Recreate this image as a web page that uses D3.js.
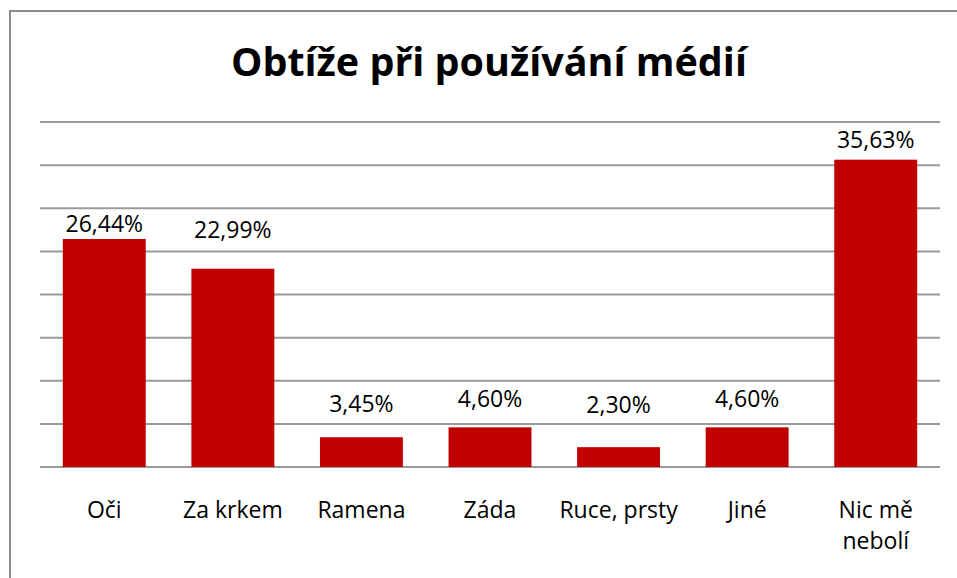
<!DOCTYPE html>
<html>
<head>
<meta charset="utf-8">
<script src="https://cdn.jsdelivr.net/npm/d3@7"></script>
<style>
  body { margin: 0; background: #fff; }
  svg { display: block; font-family: "Open Sans", "Lato", sans-serif; }
</style>
</head>
<body>
<div id="chart"></div>
<script>
var categories = ["Oči", "Za krkem", "Ramena", "Záda", "Ruce, prsty", "Jiné", "Nic mě nebolí"];
var values = [26.44, 22.99, 3.45, 4.60, 2.30, 4.60, 35.63];
var yTicks = [0, 5, 10, 15, 20, 25, 30, 35, 40];
var chartTitle = "Obtíže při používání médií";

// label lift above bar top, as placed in the original (px)
var labelLift = [7, 31, 25, 20, 34, 20, 12];

var W = 957, H = 578;
var margin = { top: 122, right: 17, bottom: 111, left: 40 };
var width = W - margin.left - margin.right,
  height = H - margin.top - margin.bottom;

var svg = d3.select("#chart").append("svg")
  .attr("width", W)
  .attr("height", H);

// outer frame (only left and top visible)
svg.append("path")
  .attr("d", "M10," + H + " V11 H" + W)
  .attr("fill", "none")
  .attr("stroke", "#8c8c8c")
  .attr("stroke-width", 2);

var g = svg.append("g")
  .attr("transform", "translate(" + margin.left + "," + margin.top + ")");

var x = d3.scaleBand().domain(categories).range([0, width]).paddingInner(0.355).paddingOuter(0.1775);
var y = d3.scaleLinear().domain([0, 40]).range([height, 0]);

// gridlines
g.selectAll("line.grid")
  .data(yTicks)
  .enter()
  .append("line")
  .attr("class", "grid")
  .attr("x1", 0)
  .attr("x2", width)
  .attr("y1", function (d) { return y(d); })
  .attr("y2", function (d) { return y(d); })
  .attr("stroke", "#9a9a9a")
  .attr("stroke-width", 2);

// bars
g.selectAll("rect.bar")
  .data(values)
  .enter()
  .append("rect")
  .attr("class", "bar")
  .attr("x", function (d, i) { return x(categories[i]); })
  .attr("y", function (d) { return y(d); })
  .attr("width", x.bandwidth())
  .attr("height", function (d) { return height - y(d); })
  .attr("fill", "#c00000");

// value labels
g.selectAll("text.val")
  .data(values)
  .enter()
  .append("text")
  .attr("class", "val")
  .attr("x", function (d, i) { return x(categories[i]) + x.bandwidth() / 2; })
  .attr("y", function (d, i) { return y(d) - labelLift[i]; })
  .attr("text-anchor", "middle")
  .attr("font-size", 23)
  .attr("fill", "#000")
  .text(function (d) { return d.toFixed(2).replace(".", ",") + "%"; });

// category axis (labels drawn below, wrapped like the original)
var xAxis = d3.axisBottom(x).tickSize(0).tickFormat("");
g.append("g")
  .attr("transform", "translate(0," + height + ")")
  .call(xAxis)
  .call(function (a) { a.select(".domain").remove(); });

var catG = g.selectAll("text.cat")
  .data(categories)
  .enter()
  .append("text")
  .attr("class", "cat")
  .attr("text-anchor", "middle")
  .attr("font-size", 23)
  .attr("fill", "#000")
  .attr("transform", function (d) {
    return "translate(" + (x(d) + x.bandwidth() / 2) + "," + (height + 51) + ")";
  });

catG.each(function (d) {
  var words = d.length > 12 ? ["Nic mě", "nebolí"] : [d];
  var t = d3.select(this);
  words.forEach(function (w, k) {
    t.append("tspan").attr("x", 0).attr("dy", k == 0 ? 0 : 31).text(w);
  });
});

// title, sized to the original width
var title = svg.append("text")
  .attr("x", 489)
  .attr("y", 76)
  .attr("text-anchor", "middle")
  .attr("font-weight", "bold")
  .attr("font-size", 40)
  .attr("fill", "#000")
  .text(chartTitle);
var tw = title.node().getComputedTextLength();
title.attr("font-size", 40 * 516 / tw);
</script>
</body>
</html>
